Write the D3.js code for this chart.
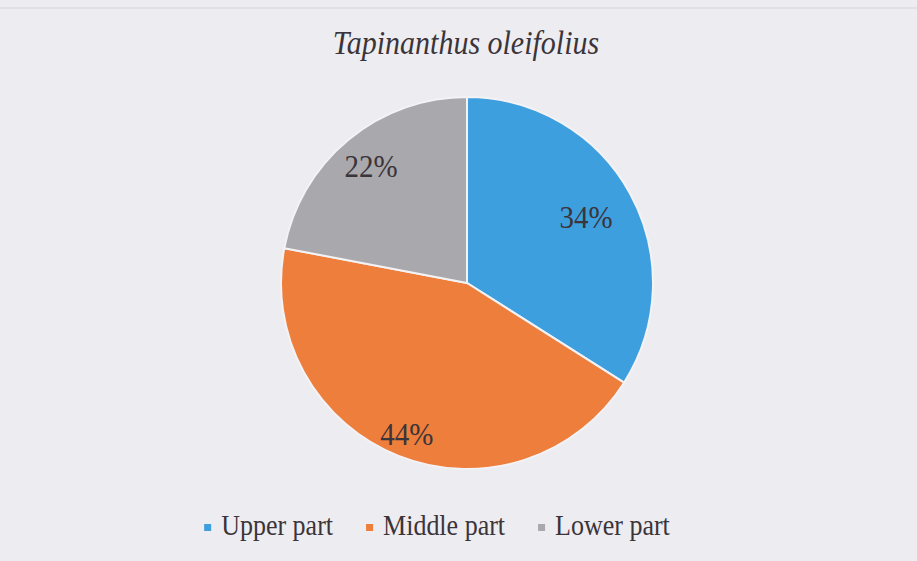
<!DOCTYPE html>
<html>
<head>
<meta charset="utf-8">
<script src="https://cdn.jsdelivr.net/npm/d3@7"></script>
</head>
<body>
<svg id="chart" width="917" height="561"></svg>
<script>
const parts = ["Upper part", "Middle part", "Lower part"];
const shares = [34, 44, 22];
const colours = ["#3e9fdf", "#ed7e3c", "#a9a8ac"];
const title = "Tapinanthus oleifolius";

const width = 917;
const height = 561;
const cx = 467, cy = 283, radius = 186;
const serif = "'Liberation Serif'";
// excel "best fit" puts the labels at different depths
const labelDepth = [0.73, 0.88, 0.81];
// the scan is a little taller than wide, so text is stretched too
const stretch = "scale(1,1.1)";

d3.select("body").style("margin", "0").style("background", "#edecf1");

const svg = d3.select("#chart").style("display", "block");

svg.append("rect")
    .attr("width", width)
    .attr("height", height)
    .attr("fill", "#edecf1");

svg.append("line")
    .attr("x1", 0).attr("x2", width)
    .attr("y1", 8).attr("y2", 8)
    .attr("stroke", "#dddce1")
    .attr("stroke-width", 1.5);

svg.append("g")
    .attr("transform", "translate(466,54)")
  .append("text")
    .attr("transform", stretch)
    .attr("text-anchor", "middle")
    .style("font-family", serif)
    .style("font-style", "italic")
    .style("font-size", "30px")
    .attr("fill", "#3b3439")
    .text(title);

const pie = d3.pie().sort(null).value(d => d);
const arcs = pie(shares);

const arc = d3.arc().innerRadius(0).outerRadius(radius);

const g = svg.append("g")
    .attr("transform", `translate(${cx},${cy})`);

g.selectAll("path")
  .data(arcs)
  .join("path")
    .attr("d", arc)
    .attr("fill", (d, i) => colours[i])
    .attr("stroke", "#f3f2f5")
    .attr("stroke-width", 2);

g.selectAll("text")
  .data(arcs)
  .join("text")
    .attr("transform", (d, i) => {
      const r = radius * labelDepth[i];
      const a = (d.startAngle + d.endAngle) / 2;
      return `translate(${Math.sin(a) * r},${-Math.cos(a) * r + 10}) ${stretch}`;
    })
    .attr("text-anchor", "middle")
    .style("font-family", serif)
    .style("font-size", "29px")
    .attr("fill", "#3b3439")
    .text(d => d.data + "%");

// legend, laid out from measured text widths
const legend = svg.append("g");
const items = legend.selectAll("g")
  .data(parts)
  .join("g");

items.append("rect")
    .attr("width", 7)
    .attr("height", 7)
    .attr("y", -11)
    .attr("fill", (d, i) => colours[i]);

items.append("text")
    .attr("x", 17)
    .attr("transform", stretch)
    .style("font-family", serif)
    .style("font-size", "26px")
    .attr("fill", "#3b3439")
    .text(d => d);

let x = 0;
items.each(function() {
  const w = d3.select(this).select("text").node().getComputedTextLength();
  d3.select(this).attr("transform", `translate(${x},0)`);
  x += 17 + w + 33;
});
const total = x - 33;
legend.attr("transform", `translate(${437 - total / 2},535)`);
</script>
</body>
</html>
